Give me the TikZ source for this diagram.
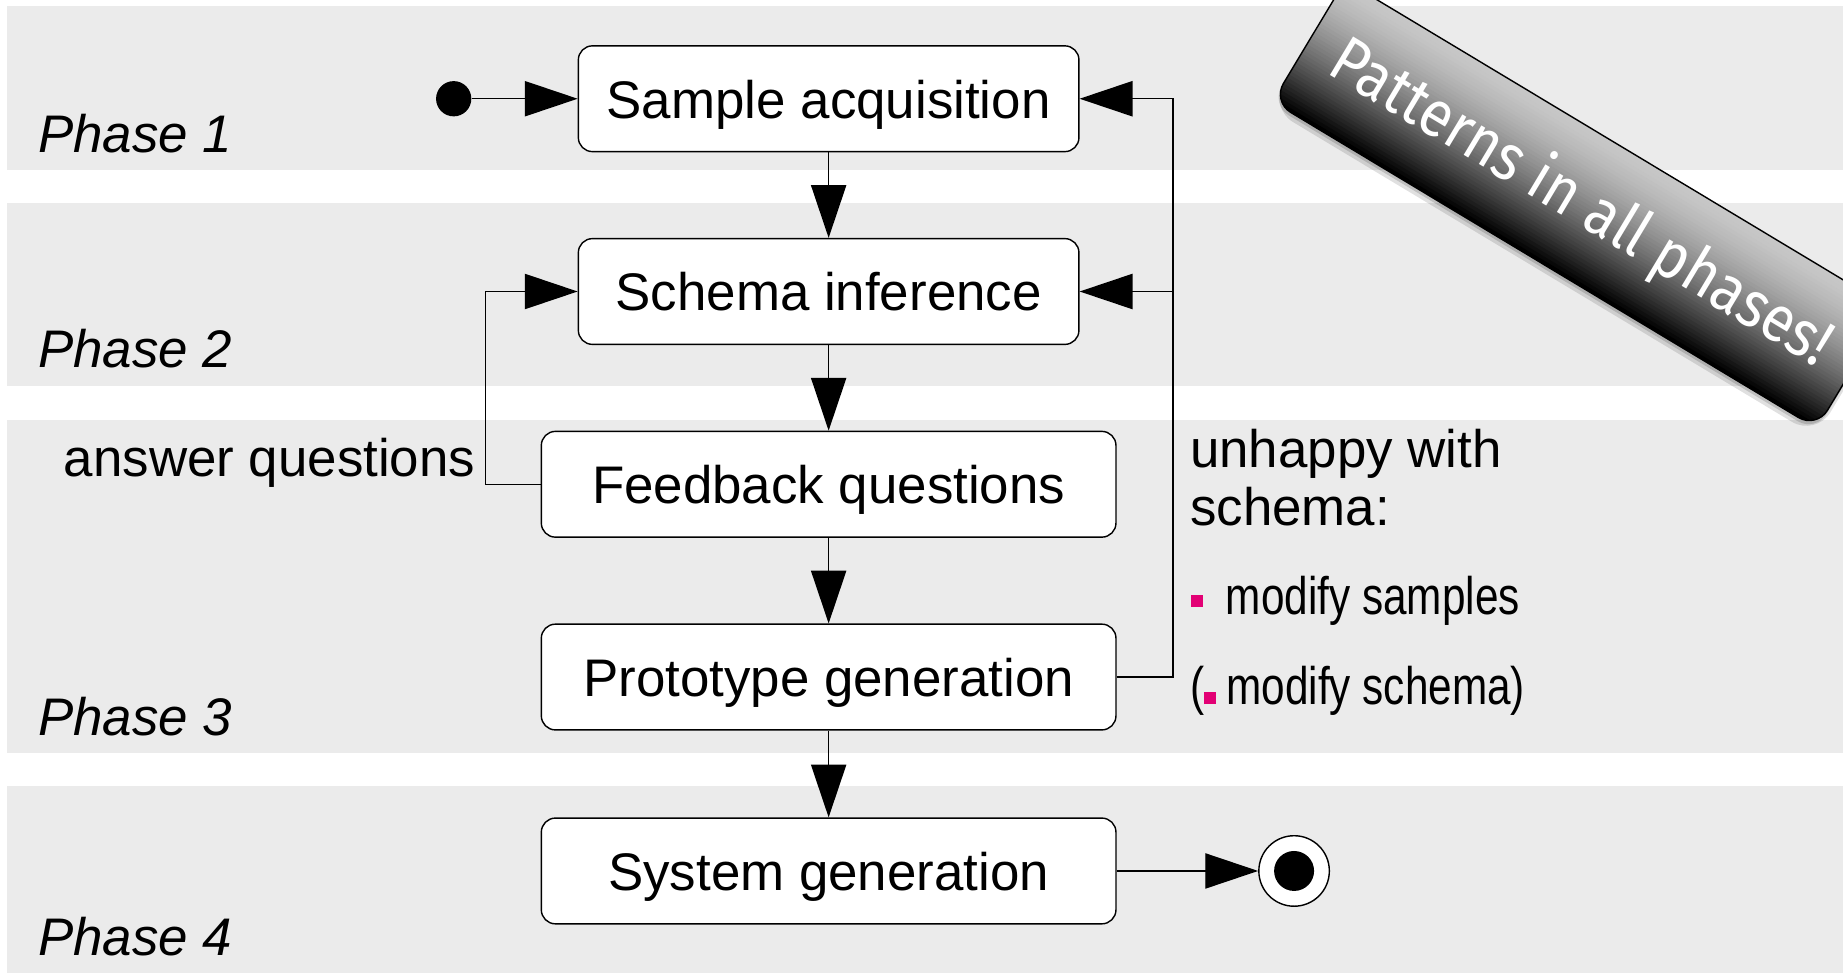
\documentclass[tikz,border=0pt]{standalone}
\usepackage{fontspec}
\setmainfont{Liberation Sans}
\newfontfamily\narrowfont{Liberation Sans}[FakeStretch=0.8]
\newfontfamily\bannerfont{Fira Sans}[FakeStretch=0.88]
\usepackage{tikz}
\usetikzlibrary{arrows.meta, positioning}
\definecolor{bandgrey}{HTML}{EBEBEB}
\definecolor{tmagenta}{HTML}{E20074}
\newcommand{\labelsize}{\fontsize{15}{16.7}\selectfont}
\newcommand{\tbullet}[1]{\textcolor{tmagenta}{\raisebox{#1}{\rule{3.3pt}{3.3pt}}}}
\tikzset{band/.style={fill=bandgrey}}
\tikzset{activity/.style={draw, fill=white, thin, rounded corners=4pt, minimum height=30pt, inner sep=0pt, text height=11pt, text depth=0pt, font=\labelsize}}
\tikzset{flow/.style={thin, -{Triangle[length=15pt, width=10pt]}}}
\tikzset{phase/.style={anchor=base west, inner sep=0pt, font=\labelsize\itshape}}
\tikzset{note/.style={inner sep=0pt, font=\labelsize}}

\begin{document}
\begin{tikzpicture}[x=0.3334pt, y=-0.3334pt]
    \useasboundingbox (0,0) rectangle (1568,828);
    \clip (0,0) rectangle (1568,828);
    % phase bands
    \fill[band] (6,5) rectangle (1568,145);
    \fill[band] (6,173) rectangle (1568,328);
    \fill[band] (6,357) rectangle (1568,641);
    \fill[band] (6,669) rectangle (1568,828);
    \node[phase] (p1) at (32,130) {Phase 1};
    \node[phase] (p2) at (32,313) {Phase 2};
    \node[phase] (p3) at (32,626) {Phase 3};
    \node[phase] (p4) at (32,813) {Phase 4};
    % activities
    \node[circle, fill=black, minimum size=10pt, inner sep=0pt] (start) at (386,84) {};
    \node[activity, minimum width=142pt] (sample) at (705,84) {Sample acquisition};
    \node[activity, minimum width=142pt] (schema) at (705,248) {Schema inference};
    \node[activity, minimum width=163pt] (feedback) at (705,412) {Feedback questions};
    \node[activity, minimum width=163pt] (proto) at (705,576) {Prototype generation};
    \node[activity, minimum width=163pt] (system) at (705,741) {System generation};
    \node[circle, draw, fill=white, thin, minimum size=20pt, inner sep=0pt] (finish) at (1101,741) {};
    \fill (finish.center) circle (17);
    \coordinate (answerturn) at (413,412);
    \coordinate (backturn) at (998,576);
    \draw[flow] (start) -- (sample);
    \draw[flow] (sample) -- (schema);
    \draw[flow] (schema) -- (feedback);
    \draw[flow] (feedback) -- (proto);
    \draw[flow] (proto) -- (system);
    \draw[flow] (system) -- (finish);
    \draw[flow] (feedback) -- (answerturn) |- (schema);
    \draw[flow] (proto) -- (backturn) |- (sample);
    \draw[flow] (backturn |- schema) -- (schema);
    % notes
    \node[note, anchor=base east] (answer) at (405,405) {answer questions};
    \node[note, anchor=base west] (unhappy) at (1012,398) {unhappy with};
    \node[note, anchor=base west] (unhappy2) at (1012,447) {schema:};
    \node[note, anchor=base west, font=\labelsize\narrowfont] (samples) at (1013,523) {\tbullet{2.3pt}\hspace{6.5pt}modify samples};
    \node[note, anchor=base west, font=\labelsize\narrowfont] (schemas) at (1012,599) {(\tbullet{0pt}\hspace{3pt}modify schema)};
    % banner
    \begin{scope}[shift={(1345,174)}, rotate=-31]
        \fill[black, opacity=.12, rounded corners=8pt] (-270,-58) rectangle (273,66);
        \fill[black, opacity=.15, rounded corners=6pt] (-270,-59) rectangle (271,63);
        \begin{scope}
            \clip[rounded corners=6pt] (-270,-60) rectangle (270,60);
            \foreach \i in {0,...,39} {
                \pgfmathsetmacro{\shadepct}{22 + 78*(\i/39)^1.5}
                \fill[black!\shadepct] (-270,-60+3*\i) rectangle (270,-56.5+3*\i);
            }
        \end{scope}
        \draw[thin, rounded corners=6pt] (-270,-60) rectangle (270,60);
        \node[text=white, font=\bannerfont\fontsize{18.5}{22}\selectfont, transform shape] (banner) at (0,0) {Patterns in all phases!};
    \end{scope}
\end{tikzpicture}
\end{document}
